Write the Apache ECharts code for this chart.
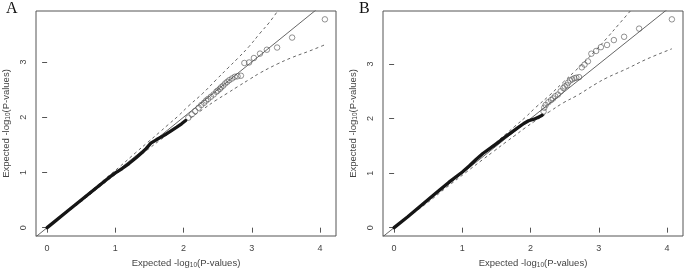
<!DOCTYPE html>
<html>
<head>
<meta charset="utf-8">
<script src="https://cdn.jsdelivr.net/npm/echarts@6/dist/echarts.min.js"></script>
<style>
  html, body { margin: 0; padding: 0; background: #fff; }
  #main { width: 685px; height: 274px; }
</style>
</head>
<body>
<div id="main"></div>
<script>
// tick labels
const xTicks = [0, 1, 2, 3, 4]
const yTicks = [0, 1, 2, 3]

// diagonal y = x reference line ends
const diagonal = [-0.3, 4.4]

// panel A: dense part of the QQ trace [expected, observed]
const traceA = [
  [0, 0], [0.1, 0.1], [0.3, 0.3], [0.5, 0.5], [0.7, 0.7], [0.9, 0.9],
  [1.0, 0.99], [1.1, 1.07], [1.2, 1.16], [1.3, 1.26], [1.4, 1.37], [1.45, 1.43],
  [1.52, 1.53], [1.6, 1.59], [1.7, 1.66], [1.8, 1.74], [1.9, 1.82], [1.97, 1.88],
  [2.03, 1.94]
]
// panel A: separate circles in the tail
const pointsA = [
  [4.07, 3.77], [3.59, 3.44], [3.37, 3.26], [3.22, 3.22], [3.12, 3.15],
  [3.03, 3.07], [2.96, 2.99], [2.89, 2.98], [2.84, 2.75], [2.79, 2.74],
  [2.75, 2.73], [2.71, 2.7], [2.67, 2.67], [2.64, 2.64], [2.61, 2.61],
  [2.58, 2.57], [2.55, 2.54], [2.53, 2.51], [2.5, 2.48], [2.48, 2.46],
  [2.44, 2.41], [2.4, 2.37], [2.36, 2.33], [2.33, 2.3], [2.3, 2.26],
  [2.26, 2.22], [2.22, 2.17], [2.17, 2.11], [2.12, 2.05], [2.07, 1.99]
]
// panel A: 95% band
const upperA = [
  [0, 0], [0.5, 0.52], [0.77, 0.8], [1.07, 1.11], [1.3, 1.36], [1.47, 1.54],
  [1.65, 1.73], [1.77, 1.86], [1.92, 2.02], [2.07, 2.2], [2.28, 2.43], [2.48, 2.68],
  [2.65, 2.89], [2.79, 3.06], [2.96, 3.28], [3.12, 3.52], [3.26, 3.72], [3.4, 3.96]
]
const lowerA = [
  [0, 0], [0.5, 0.47], [0.77, 0.74], [1.07, 1.03], [1.3, 1.25], [1.47, 1.41],
  [1.65, 1.58], [1.77, 1.69], [1.92, 1.83], [2.07, 1.96], [2.28, 2.14], [2.48, 2.31],
  [2.65, 2.44], [2.79, 2.55], [2.96, 2.68], [3.12, 2.8], [3.37, 2.96], [3.59, 3.08],
  [3.85, 3.2], [4.07, 3.31]
]

// panel B
const traceB = [
  [0, 0], [0.2, 0.2], [0.4, 0.41], [0.6, 0.62], [0.8, 0.83], [1.0, 1.02],
  [1.1, 1.13], [1.2, 1.25], [1.3, 1.36], [1.4, 1.45], [1.5, 1.54], [1.6, 1.64],
  [1.7, 1.73], [1.8, 1.82], [1.9, 1.91], [1.97, 1.96], [2.05, 1.99], [2.12, 2.03],
  [2.17, 2.06]
]
const pointsB = [
  [4.07, 3.82], [3.59, 3.65], [3.37, 3.5], [3.22, 3.44], [3.12, 3.35],
  [3.03, 3.31], [2.96, 3.24], [2.89, 3.19], [2.84, 3.05], [2.79, 2.99],
  [2.75, 2.94], [2.71, 2.76], [2.67, 2.75], [2.64, 2.74], [2.61, 2.72],
  [2.58, 2.7], [2.55, 2.66], [2.53, 2.61], [2.5, 2.59], [2.48, 2.56],
  [2.44, 2.5], [2.4, 2.44], [2.36, 2.41], [2.33, 2.37], [2.3, 2.34],
  [2.26, 2.3], [2.22, 2.25], [2.2, 2.2], [2.19, 2.13]
]
const upperB = [
  [0, 0], [0.5, 0.52], [0.77, 0.8], [1.07, 1.11], [1.3, 1.36], [1.47, 1.54],
  [1.65, 1.73], [1.77, 1.86], [1.92, 2.02], [2.07, 2.2], [2.28, 2.43], [2.48, 2.67],
  [2.65, 2.87], [2.79, 3.04], [2.96, 3.26], [3.12, 3.48], [3.3, 3.74], [3.48, 4.0]
]
const lowerB = [
  [0, 0], [0.5, 0.47], [0.77, 0.74], [1.07, 1.03], [1.3, 1.25], [1.47, 1.41],
  [1.65, 1.58], [1.77, 1.69], [1.92, 1.83], [2.07, 1.96], [2.28, 2.13], [2.48, 2.29],
  [2.69, 2.43], [2.96, 2.64], [3.12, 2.75], [3.42, 2.92], [3.7, 3.09], [4.07, 3.28]
]

const axisColor = '#555'
const textColor = '#444'
const font = 'Liberation Sans'
const axisName = 'Expected -log{sub|10}(P-values)'
const nameStyle = {
  fontFamily: font,
  fontSize: 9.5,
  color: textColor,
  rich: { sub: { fontFamily: font, fontSize: 6.5, color: textColor, padding: [4, 0, 0, 0] } }
}

function xAxisFor(gridIndex, min, max) {
  return {
    type: 'value', gridIndex, min, max,
    name: axisName, nameLocation: 'middle', nameGap: 22, nameTextStyle: nameStyle,
    splitLine: { show: false },
    axisLine: { show: false },
    axisTick: { show: true, length: 5, customValues: xTicks, lineStyle: { color: axisColor } },
    axisLabel: { customValues: xTicks, margin: 8, fontFamily: font, fontSize: 9, color: textColor }
  }
}

function yAxisFor(gridIndex, min, max) {
  return {
    type: 'value', gridIndex, min, max,
    name: axisName, nameLocation: 'middle', nameGap: 24, nameTextStyle: nameStyle,
    splitLine: { show: false },
    axisLine: { show: false },
    axisTick: { show: true, length: 5, customValues: yTicks, lineStyle: { color: axisColor } },
    axisLabel: { customValues: yTicks, rotate: 90, margin: 8, fontFamily: font, fontSize: 9, color: textColor }
  }
}

function panelSeries(idx, trace, points, upper, lower) {
  const base = { xAxisIndex: idx, yAxisIndex: idx, silent: true, animation: false }
  return [
    { ...base, type: 'line', data: diagonal.map(v => [v, v]), showSymbol: false, clip: true,
      lineStyle: { color: axisColor, width: 0.9 } },
    { ...base, type: 'line', data: upper, showSymbol: false, smooth: 0.4, clip: true,
      lineStyle: { color: axisColor, width: 0.9, type: [3, 3] } },
    { ...base, type: 'line', data: lower, showSymbol: false, smooth: 0.4, clip: true,
      lineStyle: { color: axisColor, width: 0.9, type: [3, 3] } },
    { ...base, type: 'line', data: trace, showSymbol: false, clip: true,
      lineStyle: { color: '#151515', width: 3.3, cap: 'round', join: 'round' } },
    { ...base, type: 'scatter', data: points, symbol: 'circle', symbolSize: 5.5,
      itemStyle: { color: 'rgba(0,0,0,0)', borderColor: '#555', borderWidth: 0.8 } }
  ]
}

const chart = echarts.init(document.getElementById('main'))

const panelLabel = { fontFamily: 'Liberation Serif', fontSize: 16, fontWeight: 'normal', color: '#111' }

chart.setOption({
  backgroundColor: '#fff',
  animation: false,
  title: [
    { text: 'A', left: 1, top: -4, textStyle: panelLabel },
    { text: 'B', left: 354, top: -4, textStyle: panelLabel }
  ],
  grid: [
    { left: 36, top: 11, width: 300, height: 226, show: true, borderColor: axisColor, borderWidth: 1 },
    { left: 383, top: 11, width: 300, height: 228, show: true, borderColor: axisColor, borderWidth: 1 }
  ],
  xAxis: [xAxisFor(0, -0.163, 4.233), xAxisFor(1, -0.163, 4.233)],
  yAxis: [yAxisFor(0, -0.151, 3.921), yAxisFor(1, -0.153, 3.973)],
  series: [
    ...panelSeries(0, traceA, pointsA, upperA, lowerA),
    ...panelSeries(1, traceB, pointsB, upperB, lowerB)
  ]
})
</script>
</body>
</html>
